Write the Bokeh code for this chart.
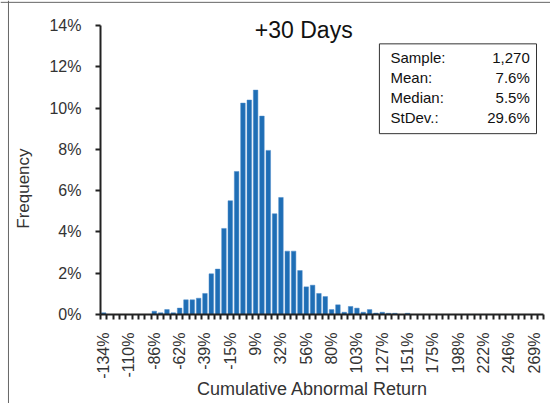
import math
from bokeh.plotting import figure
from bokeh.models import FixedTicker, Label, BoxAnnotation, Range1d, PrintfTickFormatter, Span
from bokeh.embed import file_html
from bokeh.resources import INLINE

# ---- data ----
tick_labels = ["-134%", "-110%", "-86%", "-62%", "-39%", "-15%", "9%", "32%", "56%",
               "80%", "103%", "127%", "151%", "175%", "198%", "222%", "246%", "269%"]
frequency = [0.08, 0, 0, 0, 0, 0, 0, 0,
             0.16, 0.08, 0.24, 0.08, 0.31, 0.71, 0.71, 0.79, 1.02, 1.97, 2.20, 4.17,
             5.51, 6.93, 10.24, 10.39, 10.87, 9.61, 7.95, 4.88, 5.67, 3.07,
             3.07, 2.13, 1.34, 1.42, 1.02, 0.87, 0.24, 0.47, 0.11, 0.39,
             0.31, 0.11, 0.24, 0.07, 0.11, 0.06, 0.06, 0, 0.06, 0,
             0, 0, 0, 0, 0, 0, 0, 0, 0, 0,
             0, 0, 0, 0, 0, 0, 0, 0, 0, 0]
stat_names = ["Sample:", "Mean:", "Median:", "StDev.:"]
stat_values = ["1,270", "7.6%", "5.5%", "29.6%"]
y_ticks = [0, 2, 4, 6, 8, 10, 12, 14]
y_max = 14
label_every = 4

n = len(frequency)
positions = list(range(n))

FONT = "Liberation Sans"
TXT = "#333333"

# frame covers the whole canvas; axes are pinned at fixed locations
p = figure(width=550, height=403, x_range=Range1d(-16.29, 70.57), y_range=Range1d(-4.31, 15.21),
           output_backend="svg", toolbar_location=None, title=None,
           min_border_left=0, min_border_right=0, min_border_top=0, min_border_bottom=0)
p.outline_line_color = None
p.xgrid.visible = False
p.ygrid.visible = False
p.background_fill_color = "white"
p.border_fill_color = "white"

p.vbar(x=positions, top=frequency, width=0.72, fill_color="#1F6EB5", line_color="#4A8ACB",
       line_width=0.5)

# y axis
ya = p.yaxis[0]
ya.fixed_location = -0.5
ya.bounds = (0, y_max)
ya.ticker = FixedTicker(ticks=y_ticks)
ya.formatter = PrintfTickFormatter(format="%d%%")
ya.axis_line_color = "#222222"
ya.axis_line_width = 2
ya.major_tick_out = 5
ya.major_tick_in = 0
ya.major_tick_line_width = 2
ya.major_tick_line_color = "#222222"
ya.minor_tick_line_color = None
ya.major_label_standoff = 14
ya.major_label_text_font = FONT
ya.major_label_text_font_size = "16px"
ya.major_label_text_color = TXT

# x axis
xa = p.xaxis[0]
xa.fixed_location = 0
xa.bounds = (-0.5, n - 0.5)
major = [i * label_every for i in range(len(tick_labels))]
xa.ticker = FixedTicker(ticks=major, minor_ticks=[i - 0.5 for i in range(n + 1)])
xa.major_label_overrides = {m: lab for m, lab in zip(major, tick_labels)}
xa.major_label_orientation = math.pi / 2
xa.axis_line_color = "#222222"
xa.axis_line_width = 2
xa.major_tick_out = 0
xa.major_tick_in = 0
xa.minor_tick_out = 5
xa.minor_tick_in = 0
xa.minor_tick_line_width = 2
xa.minor_tick_line_color = "#222222"
xa.major_label_standoff = 13
xa.major_label_text_font = FONT
xa.major_label_text_font_size = "16px"
xa.major_label_text_color = TXT

# chart border (left and top edges visible)
p.add_layout(Span(location=-15.03, dimension="height", line_color="#666666", line_width=1))
p.add_layout(Span(location=15.12, dimension="width", line_color="#666666", line_width=1))

# titles / axis labels
p.add_layout(Label(x=31.6, y=13.76, text="+30 Days", text_font=FONT, text_font_size="23px",
                   text_align="center", text_baseline="alphabetic", text_color="#111111"))
p.add_layout(Label(x=-12.66, y=6.1, text="Frequency", angle=math.pi / 2, text_font=FONT,
                   text_font_size="17px", text_align="center", text_baseline="middle",
                   text_color=TXT))
p.add_layout(Label(x=32.98, y=-3.63, text="Cumulative Abnormal Return", text_font=FONT,
                   text_font_size="18px", text_align="center", text_baseline="middle",
                   text_color=TXT))

# stats box
p.add_layout(BoxAnnotation(left=43.55, right=68.36, top=13.11, bottom=8.76, fill_color=None,
                           line_color="#333333", line_width=1, line_alpha=1))
for k, (nm, vl) in enumerate(zip(stat_names, stat_values)):
    yy = 12.43 - k * 0.967
    p.add_layout(Label(x=45.3, y=yy, text=nm, text_font=FONT, text_font_size="15px",
                       text_align="left", text_baseline="middle", text_color="#111111"))
    p.add_layout(Label(x=67.3, y=yy, text=vl, text_font=FONT, text_font_size="15px",
                       text_align="right", text_baseline="middle", text_color="#111111"))

open("out.html", "w").write(file_html(p, INLINE))
